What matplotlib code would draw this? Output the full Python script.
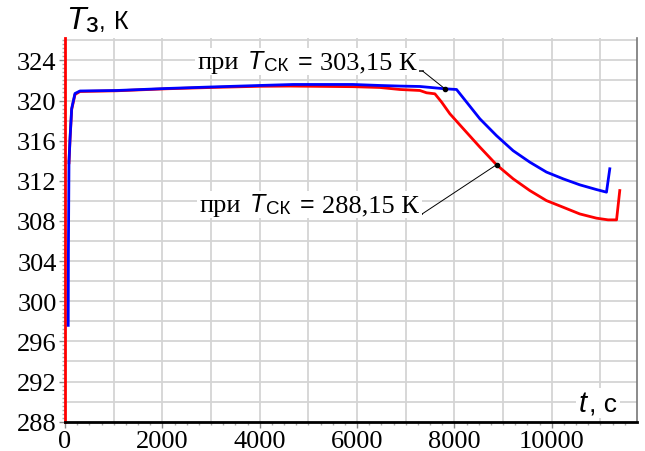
import numpy as np
import matplotlib
matplotlib.use('Agg')
import matplotlib.pyplot as plt
from matplotlib.transforms import IdentityTransform
from matplotlib.patches import Rectangle


serif = 'Liberation Serif'
sans = 'Liberation Sans'
plt.rcParams['font.family'] = [serif, 'DejaVu Serif']

# данные: время t, с и температура T3, К
t_blue = [66, 70, 82, 103, 137, 205, 308, 1061, 2088, 3000, 4000, 4688, 5914,
          6468, 6879, 7290, 7803, 8043, 8248, 8522, 8864, 9206, 9548, 9890,
          10232, 10575, 10917, 11123, 11191]
T_blue = [297.6, 305.0, 313.9, 316.2, 319.2, 320.7, 320.95, 321.0, 321.2, 321.35,
          321.5, 321.6, 321.6, 321.5, 321.44, 321.4, 321.17, 321.1, 319.85,
          318.18, 316.5, 315.0, 313.86, 312.87, 312.2, 311.6, 311.13, 310.87,
          313.2]

t_red = [82, 103, 137, 205, 308, 1061, 2088, 3000, 4000, 4620, 5914, 6468, 6879,
         7290, 7427, 7598, 7735, 7906, 8180, 8522, 8864, 9206, 9548, 9890,
         10232, 10575, 10917, 11156, 11330, 11396]
T_red = [313.8, 316.1, 319.1, 320.6, 320.9, 320.97, 321.17, 321.3, 321.42, 321.44,
         321.38, 321.3, 321.1, 321.0, 320.77, 320.67, 319.85, 318.68, 317.2,
         315.36, 313.6, 312.2, 311.03, 310.03, 309.37, 308.7, 308.28, 308.11,
         308.11, 311.03]

x_ticks = [0, 2000, 4000, 6000, 8000, 10000]
y_ticks = [288, 292, 296, 300, 304, 308, 312, 316, 320, 324]

# подписи кривых: (начало подчёркивания, конец, точка на кривой)
lab1 = ['303,15 К', (2731, 322.92), (7351, 322.92), (7803, 321.17)]
lab2 = ['288,15 К', (2772, 308.66), (7324, 308.66), (8864, 313.6)]

fig = plt.figure(figsize=(6.45, 4.52), dpi=100)
ax = fig.add_axes([65 / 645, 29.3 / 452, 572 / 645, 383.4 / 452])
ax.set_xlim(0, 11750)
ax.set_ylim(288, 326.2)

# сетка
for xv in np.arange(1000, 11001, 1000):
    ax.axvline(xv, color='#d4d4d4', lw=1.3, zorder=0)
for yv in np.arange(290, 326.1, 2):
    ax.axhline(yv, color='#d4d4d4', lw=1.3, zorder=0)

ax.plot(t_red, T_red, color='#ff0000', lw=2.0, zorder=3)
ax.plot(t_blue, T_blue, color='#0000ff', lw=2.0, zorder=4)

ax.spines['top'].set_visible(False)
ax.spines['left'].set_color('#ff0000')
ax.spines['left'].set_linewidth(2.0)
ax.spines['bottom'].set_color('black')
ax.spines['bottom'].set_linewidth(2.0)
ax.spines['right'].set_color('#777777')
ax.spines['right'].set_linewidth(1.2)

ax.set_xticks(x_ticks)
ax.set_yticks(y_ticks)
ax.set_xticks(np.arange(0, 11750, 250), minor=True)
ax.set_yticks(np.arange(288, 326.2, 0.4), minor=True)
ax.tick_params(which='major', direction='out', length=4, width=1, color='#888888',
               labelsize=19, pad=2)
ax.tick_params(which='minor', direction='out', length=2.5, width=1, color='#aaaaaa')

fig.canvas.draw()
r = fig.canvas.get_renderer()


# текст из кусков разными шрифтами; dx - сдвиг куска от начала, px
def rich_text(x0, y0, parts, bg=None):
    boxes = []
    for s, size, fam, style, dy, dx in parts:
        txt = fig.text(x0 + dx, y0 + dy, s, transform=IdentityTransform(),
                       va='baseline', ha='left', fontsize=size, family=fam,
                       style=style, zorder=7)
        boxes.append(txt.get_window_extent(r))
    if bg:
        xa = min(b.x0 for b in boxes) - 3
        xb = max(b.x1 for b in boxes) + 3
        ya = min(b.y0 for b in boxes) - 1
        yb = max(b.y1 for b in boxes) + 1
        fig.patches.append(Rectangle((xa, ya), xb - xa, yb - ya, fc=bg, ec='none',
                                     transform=IdentityTransform(), zorder=6))


for val, (xa, ya), (xb, yb), (xd, yd) in [lab1, lab2]:
    px, py = ax.transData.transform((xa, ya))
    rich_text(px, py + 3, [('при', 19, serif, 'normal', 0, 0),
                           ('T', 18, sans, 'italic', 0, 50),
                           ('СК', 13.5, sans, 'normal', -2, 66),
                           ('=', 18, sans, 'normal', 0, 100),
                           (val, 19, serif, 'normal', 0, 122)], bg='white')
    ax.plot([xa, xb], [ya, yb], color='#333333', lw=1.3, zorder=8)
    ax.plot([xb, xd], [yb, yd], color='black', lw=0.7, zorder=8)
    ax.plot([xd], [yd], 'o', color='black', ms=3, zorder=8)

# подписи осей
rich_text(66, 452 - 29, [('T', 23, sans, 'italic', 0, 0),
                         ('з', 20, sans, 'normal', -3, 19),
                         (',', 17, sans, 'normal', 0, 33),
                         ('К', 18, sans, 'normal', 0, 48)])
rich_text(579, 452 - 412, [('t', 21, sans, 'italic', 0, 0),
                           (', с', 19, sans, 'normal', 0, 10)], bg='white')

fig.savefig('out.png', dpi=100)
